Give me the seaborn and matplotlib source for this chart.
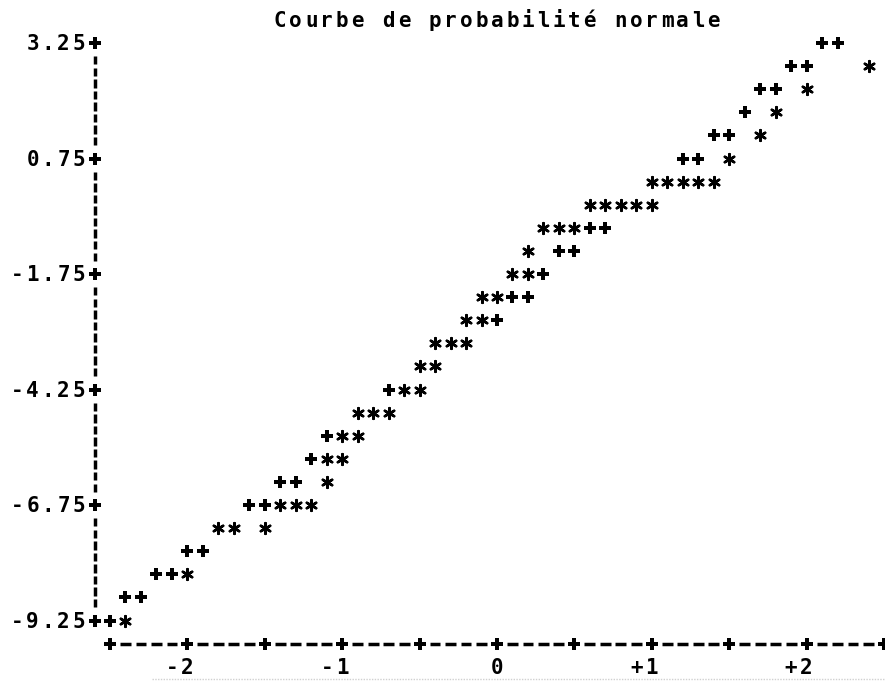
"""
Normal probability plot, line-printer style.
"""
import matplotlib

matplotlib.use("Agg")
import matplotlib.pyplot as plt
import numpy as np
import seaborn as sns

# observed values ('*') : normal quantile / value
star_x = [2.4, 2.0, 1.8, 1.7, 1.5,
          1.0, 1.1, 1.2, 1.3, 1.4,
          0.6, 0.7, 0.8, 0.9, 1.0,
          0.3, 0.4, 0.5, 0.2, 0.1, 0.2,
          -0.1, 0.0, -0.2, -0.1, -0.4, -0.3, -0.2,
          -0.5, -0.4, -0.6, -0.5, -0.9, -0.8, -0.7,
          -1.0, -0.9, -1.1, -1.0, -1.1,
          -1.4, -1.3, -1.2, -1.8, -1.7, -1.5, -2.0, -2.4]
star_y = [2.75, 2.25, 1.75, 1.25, 0.75,
          0.25, 0.25, 0.25, 0.25, 0.25,
          -0.25, -0.25, -0.25, -0.25, -0.25,
          -0.75, -0.75, -0.75, -1.25, -1.75, -1.75,
          -2.25, -2.25, -2.75, -2.75, -3.25, -3.25, -3.25,
          -3.75, -3.75, -4.25, -4.25, -4.75, -4.75, -4.75,
          -5.25, -5.25, -5.75, -5.75, -6.25,
          -6.75, -6.75, -6.75, -7.25, -7.25, -7.25, -8.25, -9.25]

# reference normal line ('+')
plus_x = [2.1, 2.2, 1.9, 2.0, 1.7, 1.8, 1.6, 1.4, 1.5, 1.2, 1.3,
          0.6, 0.7, 0.4, 0.5, 0.3, 0.1, 0.2, 0.0,
          -0.7, -1.1, -1.2, -1.4, -1.3, -1.6, -1.5,
          -2.0, -1.9, -2.2, -2.1, -2.4, -2.3, -2.5]
plus_y = [3.25, 3.25, 2.75, 2.75, 2.25, 2.25, 1.75, 1.25, 1.25, 0.75, 0.75,
          -0.75, -0.75, -1.25, -1.25, -1.75, -2.25, -2.25, -2.75,
          -4.25, -5.25, -5.75, -6.25, -6.25, -6.75, -6.75,
          -7.75, -7.75, -8.25, -8.25, -8.75, -8.75, -9.25]

y_ticks = [3.25, 0.75, -1.75, -4.25, -6.75, -9.25]
y_tick_labels = ["3.25", "0.75", "-1.75", "-4.25", "-6.75", "-9.25"]
x_ticks = [-2, -1, 0, 1, 2]
x_tick_labels = ["-2", "-1", "0", "+1", "+2"]
title = "Courbe de probabilité normale"

# character grid: one column = 0.1, one row = 0.5
COL = 0.1
ROW = 0.5
X0 = -2.5
X1 = 2.5
Y_AXIS = X0 - COL
X_AXIS_ROW = min(y_ticks) - ROW

sns.set_style("white")
plt.rcParams["font.family"] = ["DejaVu Sans Mono", "DejaVu Sans"]

fig = plt.figure(figsize=(8.85, 6.82), dpi=100)
ax = fig.add_axes([0, 0, 1, 1])
ax.set_xlim(-3.2106, 2.5065)
ax.set_ylim(-10.581, 4.181)
ax.axis("off")


def put(text, col_x, row_y):
    # one glyph per grid cell, like a line printer
    for i, ch in enumerate(text):
        ax.text(col_x + i * COL, row_y - 0.16, ch, ha="center", va="baseline",
                fontsize=15, fontweight="bold", color="black")


# data
sns.scatterplot(x=plus_x, y=plus_y, marker="P", s=75, color="black",
                linewidth=0, ax=ax, zorder=3)
sns.scatterplot(x=star_x, y=star_y, marker=(6, 2, 0), s=60, color="black",
                linewidth=1.8, ax=ax, zorder=3)

# vertical axis: broken bars between tick rows
rows = np.arange(max(y_ticks), min(y_ticks) - 0.01, -ROW)
for r in rows:
    if np.any(np.isclose(r, y_ticks)):
        continue
    for off in (0.125, -0.125):
        ax.vlines(Y_AXIS, r + off - 0.09, r + off + 0.09, color="black", lw=2.5)
ax.scatter([Y_AXIS] * len(y_ticks), y_ticks, marker="P", s=75, color="black",
           linewidth=0, zorder=3)
for val, lab in zip(y_ticks, y_tick_labels):
    put(lab, Y_AXIS - len(lab) * COL, val)

# horizontal axis: +----+----+
ncol = int(round((X1 - X0) / COL))
for c in range(ncol + 1):
    x = X0 + c * COL
    if c % 5 == 0:
        ax.scatter([x], [X_AXIS_ROW], marker="P", s=75, color="black",
                   linewidth=0, zorder=3)
    else:
        ax.hlines(X_AXIS_ROW, x - 0.035, x + 0.035, color="black", lw=2.5)
for val, lab in zip(x_ticks, x_tick_labels):
    put(lab, val - (len(lab) - 1) * COL, X_AXIS_ROW - ROW)

# title
put(title, X0 + 11 * COL, max(y_ticks) + ROW)

# faint dotted edge at the bottom
ax.plot([-2.229, 2.51], [-10.516, -10.516], color="#d0d0d0", lw=1,
        linestyle=(0, (1, 1)))

fig.savefig("out.png", dpi=100)
